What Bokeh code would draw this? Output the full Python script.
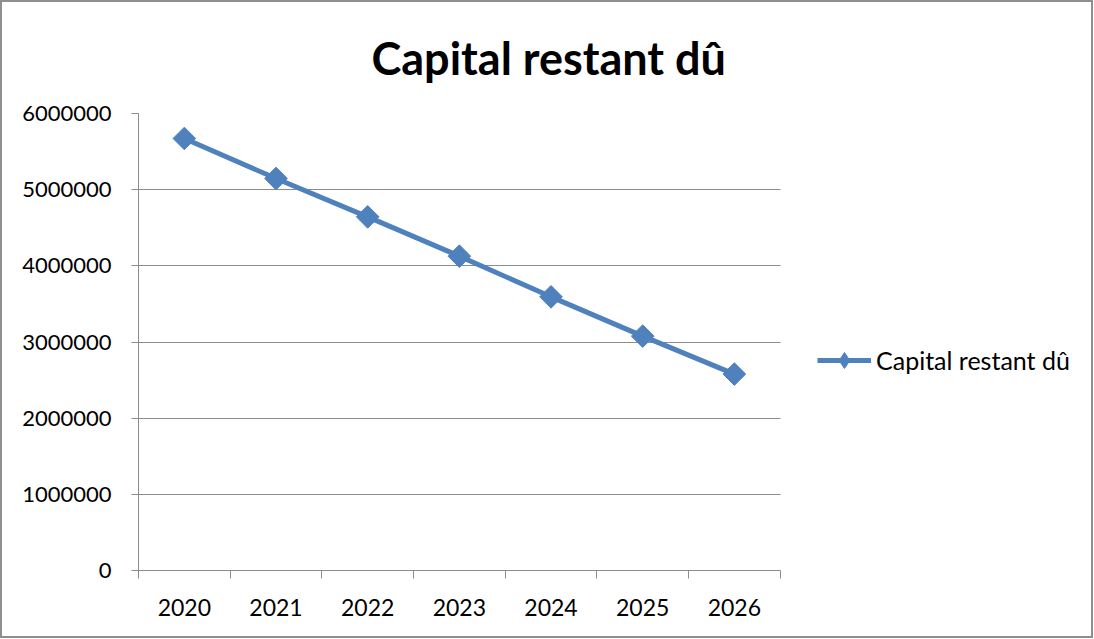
from bokeh.plotting import figure
from bokeh.models import FixedTicker, Legend, LegendItem, PrintfTickFormatter, Range1d
from bokeh.embed import file_html
from bokeh.resources import INLINE

years = [2020, 2021, 2022, 2023, 2024, 2025, 2026]
capital = [5672000, 5147000, 4643000, 4127000, 3593000, 3077000, 2579000]
series_name = "Capital restant dû"
title_text = "Capital restant dû"
y_ticks = [0, 1000000, 2000000, 3000000, 4000000, 5000000, 6000000]

FONT = "Lato"
BLUE = "#4F81BD"
GRID = "#8C8C8C"

# layout geometry (pixels)
W, H = 1093, 638
BL, BR, BT, BB = 136, 10, 111, 70
plot_px = 639.0                       # width of the category area
frame_px = (W - 4) - BL - BR          # full frame width (border-box 2px each side)
x0 = years[0] - 0.5
x_cat_end = years[-1] + 0.5
x_end = x0 + (x_cat_end - x0) * frame_px / plot_px

p = figure(width=W, height=H, output_backend="svg", toolbar_location=None,
           x_range=Range1d(x0, x_end),
           y_range=Range1d(0, 6000000),
           min_border_left=BL, min_border_right=BR, min_border_top=BT, min_border_bottom=BB)

p.title.text = title_text
p.title.text_font = FONT
p.title.text_font_size = "45px"
p.title.text_font_style = "bold"
p.title.text_color = "#000000"
p.title.align = "left"
p.title.vertical_align = "top"
p.title.offset = 233
p.title.standoff = 54

p.outline_line_color = None
p.background_fill_color = "white"
p.border_fill_color = "white"
p.styles = {"border": "2px solid #8f8f8f"}

# x axis: labels at year centers, ticks at category boundaries
p.xaxis.bounds = (x0, x_cat_end)
p.xaxis.ticker = FixedTicker(ticks=years, minor_ticks=[y - 0.5 for y in years] + [x_cat_end])
p.xaxis.formatter = PrintfTickFormatter(format="%d")
p.xaxis.major_tick_line_color = None
p.xaxis.minor_tick_line_color = GRID
p.xaxis.minor_tick_out = 8
p.xaxis.minor_tick_in = 0
p.xaxis.axis_line_color = GRID
p.xaxis.major_label_text_font = FONT
p.xaxis.major_label_text_font_size = "23px"
p.xaxis.major_label_text_color = "#000000"
p.xaxis.major_label_standoff = 20
p.xgrid.grid_line_color = None

p.yaxis.ticker = FixedTicker(ticks=y_ticks, minor_ticks=[])
p.yaxis.formatter = PrintfTickFormatter(format="%d")
p.yaxis.major_tick_line_color = GRID
p.yaxis.major_tick_out = 7
p.yaxis.major_tick_in = 0
p.yaxis.minor_tick_line_color = None
p.yaxis.axis_line_color = GRID
p.yaxis.major_label_text_font = FONT
p.yaxis.major_label_text_font_size = "22px"
p.yaxis.major_label_text_color = "#000000"
p.yaxis.major_label_standoff = 20
p.ygrid.grid_line_color = GRID
p.ygrid.grid_line_width = 1
p.ygrid.cross_bounds = (x0, x_cat_end)

line = p.line(years, capital, line_color=BLUE, line_width=5)
pts = p.scatter(years, capital, marker="square", size=16, angle=0.7853981634,
                fill_color=BLUE, line_color=BLUE)
# diamond proxy for the legend symbol (sits hidden inside the rotated squares)
leg_marker = p.scatter(years, capital, marker="diamond", size=18, fill_color=BLUE, line_color=BLUE)

legend = Legend(items=[LegendItem(label=series_name, renderers=[line, leg_marker])],
                location=(679, 190), orientation="vertical",
                glyph_width=54, glyph_height=40, label_standoff=5,
                label_text_font=FONT, label_text_font_size="25px", label_text_color="#000000",
                border_line_color=None, background_fill_alpha=0, margin=0, padding=0)
p.add_layout(legend, "center")

open("out.html", "w").write(file_html(p, INLINE))
